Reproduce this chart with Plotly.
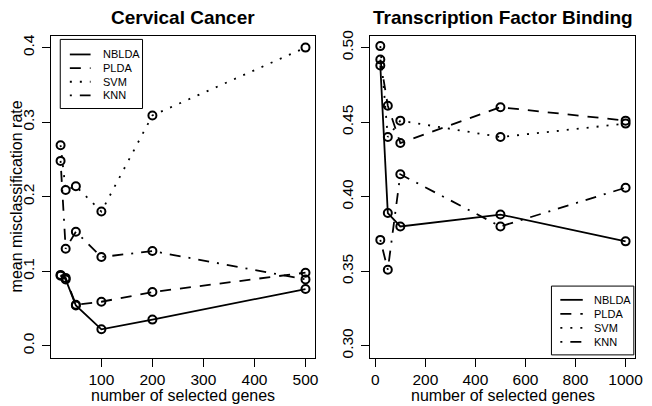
import plotly.graph_objects as go

# ---- data ----
methods = ["NBLDA", "PLDA", "SVM", "KNN"]
dashes = ["solid", "11px,9px", "2px,8px", "2px,8px,11px,8px"]

cc_genes = [20, 30, 50, 100, 200, 500]
cc_nblda = [0.094, 0.089, 0.054, 0.022, 0.035, 0.076]
cc_plda = [0.095, 0.091, 0.055, 0.059, 0.072, 0.098]
cc_svm = [0.269, 0.209, 0.214, 0.180, 0.309, 0.400]
cc_knn = [0.248, 0.130, 0.153, 0.119, 0.127, 0.089]

tf_genes = [20, 50, 100, 500, 1000]
tf_nblda = [0.488, 0.389, 0.380, 0.388, 0.370]
tf_plda = [0.492, 0.461, 0.436, 0.460, 0.451]
tf_svm = [0.501, 0.440, 0.451, 0.440, 0.449]
tf_knn = [0.371, 0.351, 0.415, 0.380, 0.406]

cc_ticks = [100, 200, 300, 400, 500]
cc_yticks = [0.0, 0.1, 0.2, 0.3, 0.4]
tf_ticks = [0, 200, 400, 600, 800, 1000]
tf_yticks = [0.30, 0.35, 0.40, 0.45, 0.50]

FONT = "Liberation Sans, Arial, sans-serif"

fig = go.Figure()

for name, dash, ys in zip(methods, dashes, [cc_nblda, cc_plda, cc_svm, cc_knn]):
    fig.add_trace(go.Scatter(
        x=cc_genes, y=ys, name=name, mode="lines+markers", showlegend=False,
        line=dict(color="black", width=1.8, dash=dash),
        marker=dict(symbol="circle-open", size=8, color="black", line=dict(width=2, color="black")),
        xaxis="x", yaxis="y"))

for name, dash, ys in zip(methods, dashes, [tf_nblda, tf_plda, tf_svm, tf_knn]):
    fig.add_trace(go.Scatter(
        x=tf_genes, y=ys, name=name, mode="lines+markers", showlegend=False,
        line=dict(color="black", width=1.8, dash=dash),
        marker=dict(symbol="circle-open", size=8, color="black", line=dict(width=2, color="black")),
        xaxis="x2", yaxis="y2"))

W, H = 652, 406
L1, R1 = 51.4, 319.2
L2, R2 = 375.1, 643.3
T, B = 30.2, 357.8

def px(v):
    return v / W

def py(v):
    return 1 - v / H

axis_common = dict(showgrid=False, zeroline=False, showline=True, linecolor="black", linewidth=1,
                   mirror=True, ticks="outside", ticklen=8, tickwidth=1, tickcolor="black",
                   tickfont=dict(family=FONT, size=15.5, color="black"))

fig.update_layout(
    width=W, height=H, margin=dict(l=0, r=0, t=0, b=0),
    paper_bgcolor="white", plot_bgcolor="white", showlegend=False,
    font=dict(family=FONT, color="black"),
    xaxis=dict(domain=[px(L1), px(R1)], range=[0.8, 519.2], tickvals=cc_ticks, anchor="y",
               ticklabelstandoff=0, **axis_common),
    yaxis=dict(domain=[py(B), py(T)], range=[-0.016, 0.416], tickvals=cc_yticks, tickformat=".1f",
               tickangle=-90, anchor="x", ticklabelstandoff=2, **axis_common),
    xaxis2=dict(domain=[px(L2), px(R2)], range=[-19.2, 1039.2], tickvals=tf_ticks, anchor="y2",
                ticklabelstandoff=0, **axis_common),
    yaxis2=dict(domain=[py(B), py(T)], range=[0.292, 0.508], tickvals=tf_yticks, tickformat=".2f",
                tickangle=-90, anchor="x2", ticklabelstandoff=2, **axis_common),
)

ann = [
    dict(text="<b>Cervical Cancer</b>", x=px((L1 + R1) / 2), y=py(12), size=19, angle=0),
    dict(text="<b>Transcription Factor Binding</b>", x=px((L2 + R2) / 2), y=py(12), size=19, angle=0),
    dict(text="number of selected genes", x=px((L1 + R1) / 2), y=py(396), size=16, angle=0),
    dict(text="number of selected genes", x=px((L2 + R2) / 2), y=py(396), size=16, angle=0),
    dict(text="mean misclassification rate", x=px(17), y=py((T + B) / 2), size=16, angle=-90),
]
for a in ann:
    fig.add_annotation(text=a["text"], x=a["x"], y=a["y"], xref="paper", yref="paper",
                       xanchor="center", yanchor="middle", showarrow=False, textangle=a["angle"],
                       font=dict(family=FONT, size=a["size"], color="black"))

# manual legends (R-style: line samples only)
legend_boxes = [
    dict(x0=61, y0=34, x1=144.3, y1=104.3, lx0=70.7, lx1=91.7, tx=102.7, rows=[49.3, 63.2, 77.1, 91.0]),
    dict(x0=558.3, y0=285, x1=641.7, y1=355, lx0=567.3, lx1=590.0, tx=599.3, rows=[299.0, 313.2, 327.5, 341.7]),
]
for lb in legend_boxes:
    fig.add_shape(type="rect", xref="paper", yref="paper", x0=px(lb["x0"]), x1=px(lb["x1"]),
                  y0=py(lb["y1"]), y1=py(lb["y0"]), line=dict(color="black", width=1),
                  fillcolor="white", layer="above")
    for name, dash, ry in zip(methods, dashes, lb["rows"]):
        fig.add_shape(type="line", xref="paper", yref="paper", x0=px(lb["lx0"]), x1=px(lb["lx1"]),
                      y0=py(ry), y1=py(ry), line=dict(color="black", width=1.8, dash=dash), layer="above")
        fig.add_annotation(text=name, x=px(lb["tx"]), y=py(ry), xref="paper", yref="paper",
                           xanchor="left", yanchor="middle", showarrow=False,
                           font=dict(family=FONT, size=11, color="black"))

fig.write_html("out.html", config={"displayModeBar": False},
               post_script="document.body.style.margin='0';document.body.style.overflow='hidden';")
